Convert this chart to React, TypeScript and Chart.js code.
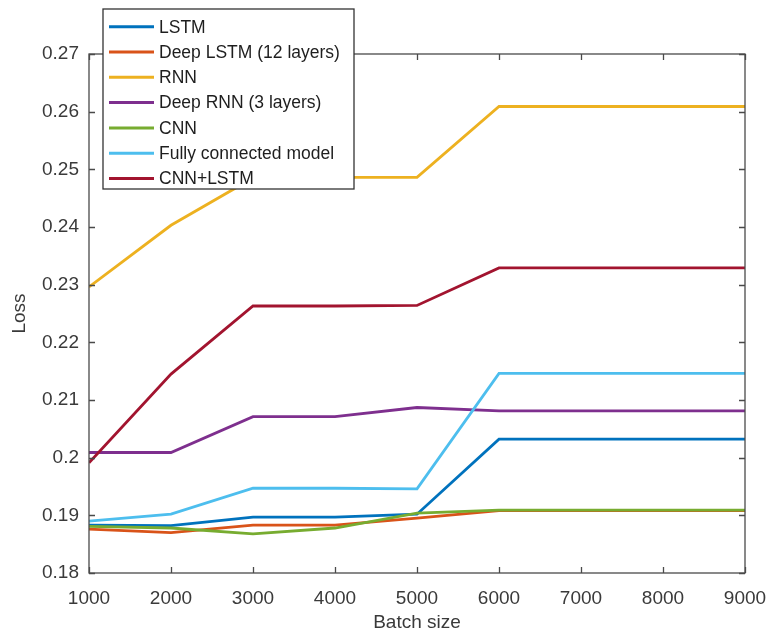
import React, { useEffect, useRef } from "react";
import { Chart, registerables } from "chart.js";

Chart.register(...registerables);

const batchSizes = [1000, 2000, 3000, 4000, 5000, 6000, 7000, 8000, 9000];

const seriesNames = [
  "LSTM",
  "Deep LSTM (12 layers)",
  "RNN",
  "Deep RNN (3 layers)",
  "CNN",
  "Fully connected model",
  "CNN+LSTM",
];

const lstm = [0.1883, 0.1882, 0.1897, 0.1897, 0.1902, 0.2032, 0.2032, 0.2032, 0.2032];
const deepLstm = [0.1876, 0.187, 0.1883, 0.1883, 0.1895, 0.1908, 0.1908, 0.1908, 0.1908];
const rnn = [0.2296, 0.2403, 0.2485, 0.2486, 0.2486, 0.2609, 0.2609, 0.2609, 0.2609];
const deepRnn = [0.2009, 0.2009, 0.2071, 0.2071, 0.2087, 0.2081, 0.2081, 0.2081, 0.2081];
const cnn = [0.1881, 0.1878, 0.1868, 0.1878, 0.1904, 0.1909, 0.1909, 0.1909, 0.1909];
const fullyConnected = [0.189, 0.1902, 0.1947, 0.1947, 0.1946, 0.2146, 0.2146, 0.2146, 0.2146];
const cnnLstm = [0.1991, 0.2145, 0.2263, 0.2263, 0.2264, 0.2329, 0.2329, 0.2329, 0.2329];

const seriesValues = [lstm, deepLstm, rnn, deepRnn, cnn, fullyConnected, cnnLstm];

const seriesColors = ["#0072BD", "#D95319", "#EDB120", "#7E2F8E", "#77AC30", "#4DBEEE", "#A2142F"];

const yTicks = [0.18, 0.19, 0.2, 0.21, 0.22, 0.23, 0.24, 0.25, 0.26, 0.27];
const xTicks = [1000, 2000, 3000, 4000, 5000, 6000, 7000, 8000, 9000];

const FONT = "'Liberation Sans', Arial, sans-serif";
const AXIS_COLOR = "#4a4a4a";
const TEXT_COLOR = "#3a3a3a";

const boxPlugin = {
  id: "matlabBox",
  afterDraw(chart: any) {
    const { ctx, chartArea } = chart;
    const { left, right, top, bottom } = chartArea;
    const xs = chart.scales.x;
    const ys = chart.scales.y;
    ctx.save();
    ctx.strokeStyle = AXIS_COLOR;
    ctx.lineWidth = 1.3;
    ctx.strokeRect(left, top, right - left, bottom - top);
    const tl = 6;
    ctx.beginPath();
    for (const v of xTicks) {
      const px = Math.round(xs.getPixelForValue(v)) + 0.5;
      ctx.moveTo(px, bottom);
      ctx.lineTo(px, bottom - tl);
      ctx.moveTo(px, top);
      ctx.lineTo(px, top + tl);
    }
    for (const v of yTicks) {
      const py = Math.round(ys.getPixelForValue(v)) + 0.5;
      ctx.moveTo(left, py);
      ctx.lineTo(left + tl, py);
      ctx.moveTo(right, py);
      ctx.lineTo(right - tl, py);
    }
    ctx.stroke();

    // legend
    const lx = 103, ly = 9, lw = 251, lh = 180;
    ctx.fillStyle = "#ffffff";
    ctx.fillRect(lx, ly, lw, lh);
    ctx.strokeStyle = "#333333";
    ctx.lineWidth = 1.3;
    ctx.strokeRect(lx, ly, lw, lh);
    ctx.font = `17.5px ${FONT}`;
    ctx.textBaseline = "middle";
    ctx.textAlign = "left";
    seriesNames.forEach((name, i) => {
      const cy = 26.7 + i * 25.3;
      ctx.strokeStyle = seriesColors[i];
      ctx.lineWidth = 3;
      ctx.beginPath();
      ctx.moveTo(109, cy);
      ctx.lineTo(154, cy);
      ctx.stroke();
      ctx.fillStyle = "#1e1e1e";
      ctx.fillText(name, 159, cy + 1);
    });
    ctx.restore();
  },
};

export default function App() {
  const canvasRef = useRef<HTMLCanvasElement | null>(null);

  useEffect(() => {
    document.body.style.margin = "0";
    const canvas = canvasRef.current;
    if (!canvas) return;
    const n = seriesNames.length;
    const chart = new Chart(canvas, {
      type: "line",
      data: {
        datasets: seriesNames.map((name, i) => ({
          label: name,
          data: batchSizes.map((x, j) => ({ x, y: seriesValues[i][j] })),
          borderColor: seriesColors[i],
          backgroundColor: seriesColors[i],
          borderWidth: 2.8,
          pointRadius: 0,
          tension: 0,
          fill: false,
          order: n - i,
        })),
      },
      options: {
        responsive: false,
        animation: false,
        layout: { padding: { top: 54, right: 25, left: 0, bottom: 0 } },
        plugins: {
          legend: { display: false },
          tooltip: { enabled: false },
        },
        scales: {
          x: {
            type: "linear",
            min: 1000,
            max: 9000,
            afterFit(scale: any) {
              scale.height = 64;
              scale.paddingLeft = 0;
              scale.paddingRight = 0;
            },
            afterBuildTicks(scale: any) {
              scale.ticks = xTicks.map((v) => ({ value: v }));
            },
            grid: { display: false, drawTicks: false },
            border: { display: false },
            ticks: {
              padding: 14,
              color: TEXT_COLOR,
              font: { family: FONT, size: 19 },
              maxRotation: 0,
              callback: (v: any) => String(v),
            },
            title: {
              display: true,
              text: "Batch size",
              color: TEXT_COLOR,
              font: { family: FONT, size: 19 },
              padding: { top: 0, bottom: 3 },
            },
          },
          y: {
            type: "linear",
            min: 0.18,
            max: 0.27,
            afterFit(scale: any) {
              scale.width = 89;
              scale.paddingTop = 0;
              scale.paddingBottom = 0;
            },
            afterBuildTicks(scale: any) {
              scale.ticks = yTicks.map((v) => ({ value: v }));
            },
            grid: { display: false, drawTicks: false },
            border: { display: false },
            ticks: {
              padding: 10,
              color: TEXT_COLOR,
              font: { family: FONT, size: 19 },
              callback: (v: any) => String(Number(Number(v).toFixed(2))),
            },
            title: {
              display: true,
              text: "Loss",
              color: TEXT_COLOR,
              font: { family: FONT, size: 19 },
              padding: { top: 8, bottom: 0 },
            },
          },
        },
      },
      plugins: [boxPlugin],
    });
    return () => chart.destroy();
  }, []);

  return (
    <div style={{ width: 770, height: 637, position: "relative", background: "#fff" }}>
      <canvas ref={canvasRef} width={770} height={637} style={{ display: "block" }} />
    </div>
  );
}
